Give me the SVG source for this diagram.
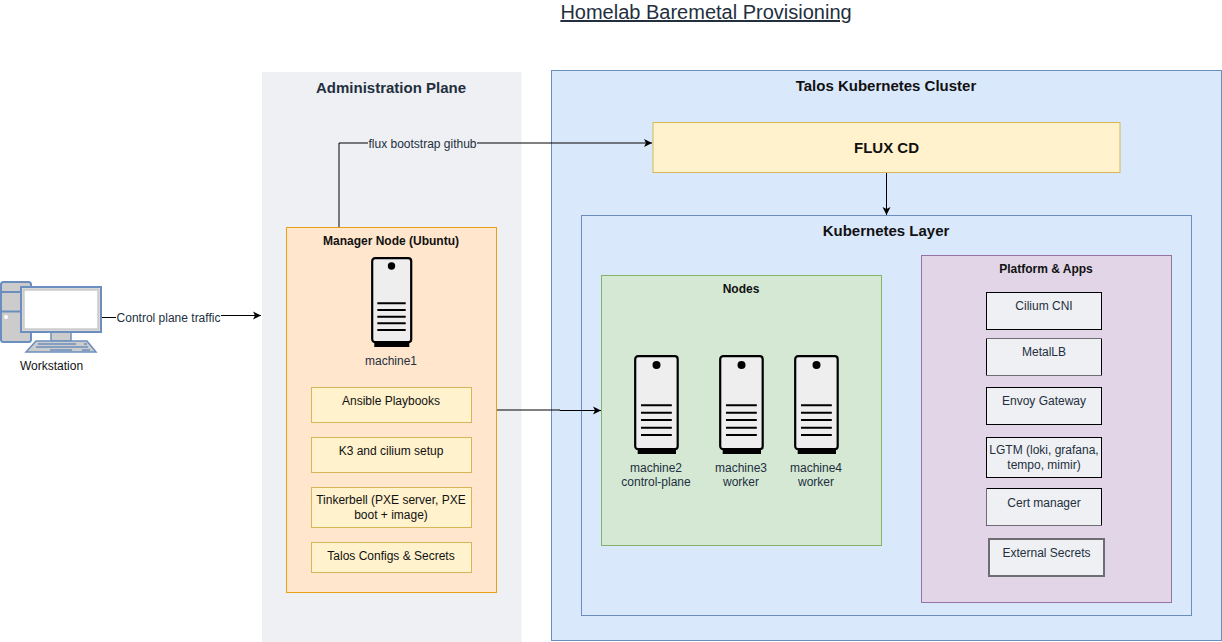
<svg xmlns="http://www.w3.org/2000/svg" width="1222" height="642" viewBox="0 0 1222 642">
<style>
text{font-family:"Liberation Sans",Arial,sans-serif;font-size:12px;fill:#232F3E;text-anchor:middle}
.k{fill:#111}
.b{font-weight:bold}
.h{font-size:15px;font-weight:bold}
.blue{fill:#dae8fc;stroke:#6c8ebf}
.yel{fill:#fff2cc;stroke:#d6b656}
.app{fill:#eff0f3;stroke:#000}
.conn{fill:none;stroke:#000;stroke-width:1}
</style>
<defs>
<marker id="arr" markerUnits="userSpaceOnUse" markerWidth="10" markerHeight="10" refX="8" refY="5" orient="auto"><path d="M0,1L8,5L0,9L2,5Z" fill="#000"/></marker>
<g id="srv1">
<rect x="3.300" y="83" width="35" height="7" fill="#000"/>
<rect x="1.200" y="1.200" width="39" height="84" rx="3" fill="#eee" stroke="#000" stroke-width="2.200"/>
<circle cx="20.500" cy="9" r="3.700" fill="#000"/>
<path d="M6.300 46.300H34.700M6.300 53H34.700M6.300 59.700H34.700M6.300 66.300H34.700M6.300 73H34.700" stroke="#000" stroke-width="2" fill="none"/>
</g>
<g id="srv2">
<rect x="3.700" y="92" width="38.300" height="7" fill="#000"/>
<rect x="1.200" y="1.200" width="42.500" height="93" rx="3" fill="#eee" stroke="#000" stroke-width="2.200"/>
<circle cx="22.500" cy="10" r="4" fill="#000"/>
<path d="M7 50.300H37.800M7 57.700H37.800M7 65H37.800M7 72.700H37.800M7 80H37.800" stroke="#000" stroke-width="2" fill="none"/>
</g>
</defs>
<rect width="1222" height="642" fill="#fff"/>
<text x="706" y="19" style="font-size:20px;text-decoration:underline">Homelab Baremetal Provisioning</text>

<g id="admin"><rect x="262" y="72" width="259.500" height="570" fill="#eff0f3"/>
<text x="391" y="93" class="h">Administration Plane</text></g>

<g id="cluster"><rect class="blue" x="551.500" y="70.500" width="670" height="570"/>
<text x="886" y="91" class="h k">Talos Kubernetes Cluster</text></g>

<g id="flux"><rect class="yel" x="653" y="122.500" width="467" height="50"/>
<text x="886.500" y="153" class="h k">FLUX CD</text></g>

<g id="k8s"><rect class="blue" x="581.500" y="215.500" width="610" height="400"/>
<text x="886" y="236" class="h k">Kubernetes Layer</text></g>

<g id="nodes"><rect x="601.500" y="275.500" width="280" height="270" fill="#d5e8d4" stroke="#82b366"/>
<text x="741" y="293" class="b k">Nodes</text></g>

<g id="apps"><rect x="921.500" y="255.500" width="250" height="347" fill="#e1d5e7" stroke="#9673a6"/>
<text x="1046" y="273" class="b k">Platform &amp; Apps</text></g>

<g id="manager"><rect x="286.500" y="227.500" width="210" height="365" fill="#ffe6cc" stroke="#e6a117"/>
<text x="391" y="245" class="b k">Manager Node (Ubuntu)</text></g>

<g id="machine1"><use href="#srv1" x="371" y="257"/><text x="391" y="365">machine1</text></g>
<g id="machine2"><use href="#srv2" x="634" y="355"/><text x="656" y="472">machine2</text><text x="656" y="486">control-plane</text></g>
<g id="machine3"><use href="#srv2" x="719" y="355"/><text x="741" y="472">machine3</text><text x="741" y="486">worker</text></g>
<g id="machine4"><use href="#srv2" x="794" y="355"/><text x="816" y="472">machine4</text><text x="816" y="486">worker</text></g>

<g id="ansible"><rect class="yel" x="311.500" y="387.500" width="160" height="35"/><text class="k" x="391" y="405">Ansible Playbooks</text></g>
<g id="k3"><rect class="yel" x="311.500" y="437.500" width="160" height="35"/><text class="k" x="391" y="455">K3 and cilium setup</text></g>
<g id="tinkerbell"><rect class="yel" x="311.500" y="487.500" width="160" height="40"/><text class="k" x="391" y="504">Tinkerbell (PXE server, PXE</text><text class="k" x="391" y="519">boot + image)</text></g>
<g id="talos"><rect class="yel" x="311.500" y="542.500" width="160" height="30"/><text class="k" x="391" y="560">Talos Configs &amp; Secrets</text></g>

<g id="cilium"><rect class="app" x="986.500" y="292.500" width="115" height="37"/><text x="1044" y="310">Cilium CNI</text></g>
<g id="metallb"><rect class="app" x="986.500" y="338.500" width="115" height="37"/><path d="M986 338.500H1102M986 375.500H1102" stroke="#6d6d73" fill="none"/><text x="1044" y="356">MetalLB</text></g>
<g id="envoy"><rect class="app" x="986.500" y="387.500" width="115" height="37"/><text x="1044" y="405">Envoy Gateway</text></g>
<g id="lgtm"><rect class="app" x="986.500" y="437.500" width="115" height="40"/><text x="1044" y="454">LGTM (loki, grafana,</text><text x="1044" y="469">tempo, mimir)</text></g>
<g id="cert"><rect class="app" x="986.500" y="488.500" width="115" height="37"/><path d="M986.500 488V525.500H1102" stroke="#6d6d73" fill="none"/><text x="1044" y="507">Cert manager</text></g>
<g id="secrets"><rect x="989" y="539" width="115" height="37" fill="#eff0f3" stroke="#6d6d73" stroke-width="2"/><text x="1046.500" y="557">External Secrets</text></g>

<g id="workstation">
<rect x="1" y="282" width="30" height="60" rx="2.500" fill="#ccc" stroke="#6c8ebf" stroke-width="2"/>
<path d="M1 292H22M1 311.500H22" stroke="#6c8ebf" stroke-width="2"/>
<circle cx="6" cy="317" r="2" fill="#fff"/>
<rect x="51" y="332" width="20" height="9" fill="#ccc" stroke="#6c8ebf" stroke-width="1.500"/>
<rect x="21" y="287" width="80" height="45" fill="#fff" stroke="#6c8ebf" stroke-width="2"/>
<rect x="23.500" y="289.500" width="75" height="40" fill="none" stroke="#ccc" stroke-width="2.500"/>
<path d="M36 341H87L96 352H26Z" fill="#ccc" stroke="#6c8ebf" stroke-width="1.500"/>
<path d="M38 344H76M84 344H87M36 347H88M50 350H72M82 350H90" stroke="#6c8ebf" stroke-width="1.500"/>
<text x="51.500" y="370" class="k">Workstation</text>
</g>

<g id="connectors">
<path class="conn" d="M339 227V143H652" marker-end="url(#arr)"/>
<path class="conn" d="M102 317.500H181V315.500H261" marker-end="url(#arr)"/>
<path class="conn" d="M886.500 173V215" marker-end="url(#arr)"/>
<path class="conn" d="M497 410H560V410.500H601" marker-end="url(#arr)"/>
<rect x="368" y="136" width="109" height="15" fill="#eff0f3"/>
<text x="422.500" y="148">flux bootstrap github</text>
<rect x="116" y="309" width="105" height="15" fill="#fff"/>
<text x="168.500" y="322">Control plane traffic</text>
</g>
</svg>
